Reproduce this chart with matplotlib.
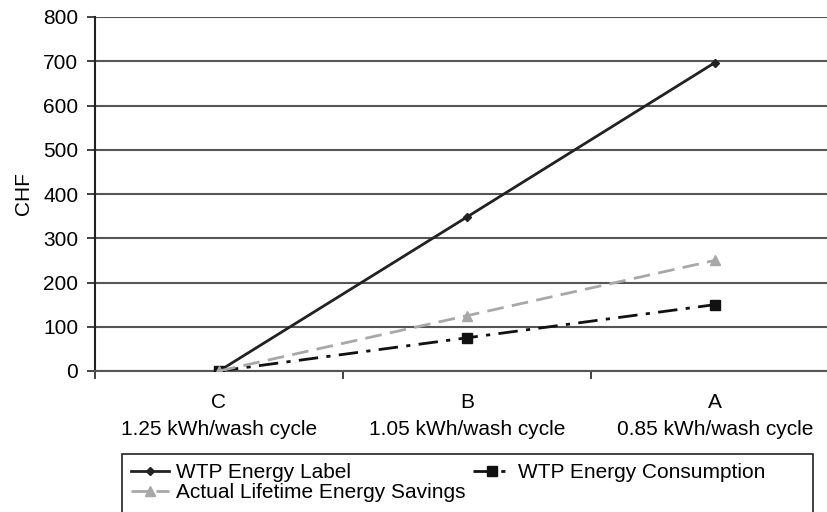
import matplotlib
matplotlib.use("Agg")
import matplotlib.pyplot as plt
from matplotlib.patches import Rectangle

# data
categories = ["C\n1.25 kWh/wash cycle", "B\n1.05 kWh/wash cycle", "A\n0.85 kWh/wash cycle"]
wtp_label = [0, 348, 697]
wtp_consumption = [0, 75, 150]
actual_savings = [0, 125, 250]
yticks = [0, 100, 200, 300, 400, 500, 600, 700, 800]

plt.rcParams['font.family'] = ['Liberation Sans', 'DejaVu Sans']
FS = 15

fig = plt.figure(figsize=(8.28, 5.12), dpi=100)
ax = fig.add_axes([95 / 828, 1 - 371 / 512, 1 - 95 / 828, (371 - 17) / 512])

x = list(range(len(categories)))
l1, = ax.plot(x, wtp_label, color='#222222', lw=2, marker='D', ms=4, zorder=3,
              label='WTP Energy Label')
l3, = ax.plot(x, wtp_consumption, color='#111111', lw=2, ls=(0, (7, 3, 1.5, 3)),
              marker='s', ms=7, zorder=3, label='WTP Energy Consumption')
l2, = ax.plot(x, actual_savings, color='#a8a8a8', lw=2, ls=(0, (6, 3)),
              marker='^', ms=7, zorder=4, label='Actual Lifetime Energy Savings')

ax.set_xlim(-0.5, 2.456)
ax.set_ylim(0, 800)
ax.set_yticks(yticks)
ax.tick_params(axis='y', labelsize=FS, length=6, width=1.2, color='#222222', pad=6)

# category labels between tick marks
ax.set_xticks([-0.5, 0.5, 1.5])
ax.set_xticklabels([])
ax.set_xticks(x, minor=True)
ax.set_xticklabels(categories, minor=True, fontsize=FS, linespacing=1.5)
ax.tick_params(axis='x', which='minor', length=0, pad=16)
ax.tick_params(axis='x', which='major', length=6, width=1.2, color='#222222')

ax.yaxis.grid(True, color='#555555', lw=1.5)
ax.set_axisbelow(True)
for s in ['top', 'right']:
    ax.spines[s].set_visible(False)
ax.spines['left'].set_linewidth(1.5)
ax.spines['left'].set_color('#222222')
ax.spines['bottom'].set_linewidth(1.5)
ax.spines['bottom'].set_color('#555555')

ax.set_ylabel('CHF', fontsize=FS, labelpad=7)

# legend box drawn separately so it can be wider than its contents
fig.patches.append(Rectangle((122 / 828, -0.05), (813 - 122) / 828, 1 - 454 / 512 + 0.05,
                             transform=fig.transFigure, fill=False,
                             edgecolor='#222222', lw=1.2))
leg = fig.legend(handles=[l1, l2, l3], ncol=2, fontsize=FS,
                 loc='upper left', bbox_to_anchor=(122 / 828, 1 - 454 / 512),
                 borderaxespad=0, borderpad=0.45,
                 handlelength=1.8, handletextpad=0.35,
                 labelspacing=0.05, columnspacing=0.35, frameon=False)

fig.savefig('out.png', dpi=100)
